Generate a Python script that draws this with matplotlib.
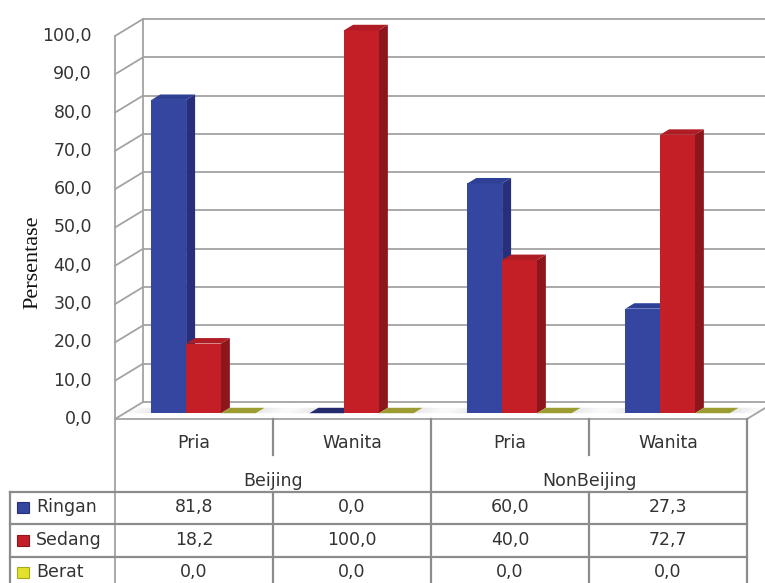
import matplotlib.pyplot as plt
from matplotlib.patches import Polygon, Rectangle

# data
groups = ["Beijing", "NonBeijing"]
genders = ["Pria", "Wanita", "Pria", "Wanita"]
series_names = ["Ringan", "Sedang", "Berat"]
ringan = [81.8, 0.0, 60.0, 27.3]
sedang = [18.2, 100.0, 40.0, 72.7]
berat = [0.0, 0.0, 0.0, 0.0]
yticks = [0, 10, 20, 30, 40, 50, 60, 70, 80, 90, 100]

series = [ringan, sedang, berat]
# front, side, top, flat(zero) colours per series
colors = [
    ("#3446a0", "#252f7c", "#2e3f96", "#232b6e"),
    ("#c41f27", "#8c161b", "#b01c23", "#8c161b"),
    ("#e2e22a", "#a8a820", "#c8c828", "#9c9c32"),
]
grid_c = "#a3a3a3"
text_c = "#333333"
fs = 12.5

W, H = 765, 583
CAT = 158.0      # px per category
UNIT = 3.83      # px per percent
X0, Y0 = 115, 419  # pixel position of (0, 0) on the front plane


def dx(px):
    return (px - X0) / CAT


def dy(px):
    return (Y0 - px) / UNIT


DX = 28 / CAT    # depth offset of the back wall
DY = 17 / UNIT

fig = plt.figure(figsize=(W / 100, H / 100), dpi=100)
ax = fig.add_axes([0, 0, 1, 1])
ax.set_xlim(dx(0), dx(W))
ax.set_ylim(dy(H), dy(0))
ax.axis("off")

n = len(genders)
lw = 1.3

# back wall and left wall
for v in yticks:
    ax.plot([DX, dx(W)], [v + DY, v + DY], color=grid_c, lw=lw, zorder=1)
    ax.plot([0, DX], [v, v + DY], color=grid_c, lw=lw, zorder=1)
ax.plot([DX, DX], [DY, 100 + DY], color=grid_c, lw=lw, zorder=1)
ax.plot([0, 0], [dy(H), 100], color=grid_c, lw=lw, zorder=1)
# floor
ax.plot([0, n], [0, 0], color=grid_c, lw=lw, zorder=1)
ax.plot([n, n + DX], [0, DY], color=grid_c, lw=lw, zorder=1)

# bars
gap = 0.17
w = (1 - 2 * gap) / 3
d0, d1 = 0.34, 0.66
for i in range(n):
    # soft floor shadow around the cluster
    left = i + gap + d0 * DX
    right = i + 1 - gap + d0 * DX
    for k in range(6):
        a = 0.12 * (6 - k) / 6
        for xa, xb in [(right + k * 0.03, right + (k + 1) * 0.03),
                       (left - (k + 1) * 0.03, left - k * 0.03)]:
            ax.add_patch(Polygon([(xa, d0 * DY), (xb, d0 * DY),
                                  (xb + (d1 - d0) * DX, d1 * DY),
                                  (xa + (d1 - d0) * DX, d1 * DY)],
                                 closed=True, fc="#555555", ec="none",
                                 alpha=a, zorder=2))
    for j, vals in enumerate(series):
        v = vals[i]
        front, side, top, flat = colors[j]
        x0 = i + gap + j * w
        fx0 = x0 + d0 * DX
        fx1 = fx0 + w
        bx0 = x0 + d1 * DX
        bx1 = bx0 + w
        yb0 = d0 * DY
        yb1 = d1 * DY
        if v > 0:
            ax.add_patch(Polygon([(fx1, yb0), (bx1, yb1), (bx1, yb1 + v), (fx1, yb0 + v)],
                                 closed=True, fc=side, ec="none", zorder=3))
            ax.add_patch(Rectangle((fx0, yb0), w, v, fc=front, ec="none", zorder=3))
        ax.add_patch(Polygon([(fx0, yb0 + v), (fx1, yb0 + v), (bx1, yb1 + v), (bx0, yb1 + v)],
                             closed=True, fc=top if v > 0 else flat, ec="none", zorder=3))

# y tick labels
for v in yticks:
    ax.text(dx(92), v, f"{v:.1f}".replace(".", ","), ha="right", va="center",
            fontsize=fs, color=text_c)
ax.text(dx(33), dy(262), "Persentase", rotation=90, ha="center", va="center",
        fontsize=16, family="Liberation Serif", color="#111111")

# data table
tc = "#8c8c8c"
tlw = 1.6
rows_px = [492, 524, 557]
for r in rows_px:
    ax.plot([dx(10), n], [dy(r), dy(r)], color=tc, lw=tlw, zorder=1)
ax.plot([dx(10), dx(10)], [dy(rows_px[0]), dy(H)], color=tc, lw=tlw)
for c in range(1, n + 1):
    if c % 2 == 1:
        ax.plot([c, c], [0, dy(455)], color=tc, lw=tlw)
        ax.plot([c, c], [dy(rows_px[0]), dy(H)], color=tc, lw=tlw)
    else:
        ax.plot([c, c], [0, dy(H)], color=tc, lw=tlw)

for i, g in enumerate(genders):
    ax.text(i + 0.5, dy(443), g, ha="center", va="center", fontsize=fs, color=text_c)
for k, g in enumerate(groups):
    ax.text(2 * k + 1, dy(481), g, ha="center", va="center", fontsize=fs, color=text_c)

row_y = [507, 540, 572]
for j, name in enumerate(series_names):
    yc = dy(row_y[j])
    ax.add_patch(Rectangle((dx(17), yc - 5.5 / UNIT), 12 / CAT, 11 / UNIT,
                           fc=colors[j][0], ec=colors[j][1], lw=0.8))
    ax.text(dx(36), yc, name, ha="left", va="center", fontsize=fs, color=text_c)
    for i in range(n):
        ax.text(i + 0.5, yc, f"{series[j][i]:.1f}".replace(".", ","),
                ha="center", va="center", fontsize=fs, color=text_c)

fig.savefig("out.png", dpi=100)
